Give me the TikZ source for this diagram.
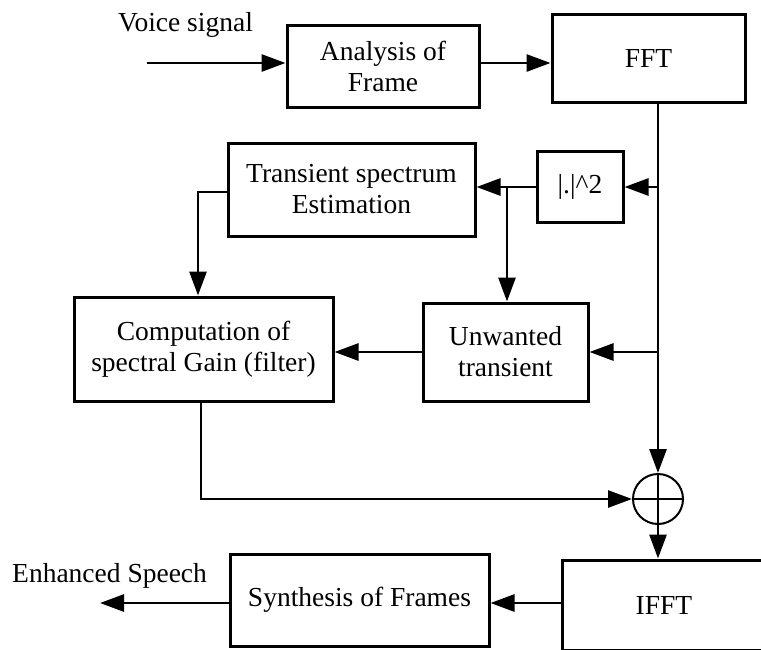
\documentclass[tikz,border=0pt]{standalone}
\usepackage{fontspec}
\setmainfont{Liberation Serif}
\usetikzlibrary{arrows.meta}
\begin{document}
\begin{tikzpicture}[x=1pt,y=-1pt,
  box/.style={draw, line width=3pt, inner sep=0pt, align=center, font=\fontsize{27.5}{31}\selectfont},
  lbl/.style={inner sep=0pt, font=\fontsize{27.5}{31}\selectfont},
  wire/.style={line width=2.8pt},
  arr/.style={wire, -{Triangle[length=24pt,width=17pt]}},
  ]
\clip (0,0) rectangle (761,649);
\useasboundingbox (0,0) rectangle (761,649);

\node[box, minimum width=192pt, minimum height=82pt] (ana) at (383,66) {Analysis of\\Frame};
\node[box, minimum width=193pt, minimum height=88pt] (fft) at (648.5,58) {FFT};
\node[box, minimum width=86pt, minimum height=71pt] (sq) at (580,186.5) {|.|\textasciicircum 2};
\node[box, minimum width=247pt, minimum height=93pt] (trans) at (351.5,189.5) {Transient spectrum\\Estimation};
\node[box, minimum width=259pt, minimum height=104pt] (comp) at (203.5,349) {Computation of\\spectral Gain (filter)};
\node[box, minimum width=165pt, minimum height=98pt] (unw) at (505.5,352) {Unwanted\\transient};
\node[box, minimum width=259pt, minimum height=92pt] (syn) at (359.5,600) {Synthesis of Frames};
\node[box, minimum width=204pt, minimum height=90pt] (ifft) at (664,605) {IFFT};
\node[draw, circle, line width=2pt, minimum size=50pt, inner sep=0pt] (sum) at (658,499) {};
\draw[line width=2pt] (sum.north) -- (sum.south) (sum.west) -- (sum.east);

\node[lbl, anchor=base west] (vs) at (118,31) {Voice signal};
\node[lbl, anchor=base west] (es) at (12,582) {Enhanced Speech};

\coordinate (vin) at (147,63);
\coordinate (j1) at (658,187);
\coordinate (j2) at (658,352);
\coordinate (b) at (507,187);
\coordinate (t1) at (198,192);
\coordinate (c1) at (201,499);
\coordinate (s1) at (0,603);
\coordinate (out) at (100,603);

\draw[arr] (vin) -- (ana.west |- vin);
\draw[arr] (ana.east |- vin) -- (fft.west |- vin);
\draw[arr] (fft.south -| sum) -- (sum.north);
\draw[arr] (j1) -- (sq.east |- j1);
\draw[arr] (sq.west |- j1) -- (trans.east |- j1);
\draw[arr] (b) -- (unw.north -| b);
\draw[arr] (j2) -- (unw.east |- j2);
\draw[arr] (unw.west |- j2) -- (comp.east |- j2);
\draw[arr] (trans.west |- t1) -- (t1) -- (comp.north -| t1);
\draw[arr] (comp.south -| c1) -- (c1) -- (sum.west);
\draw[arr] (sum.south) -- (ifft.north -| sum);
\draw[arr] (ifft.west |- s1) -- (syn.east |- s1);
\draw[arr] (syn.west |- out) -- (out);
\end{tikzpicture}
\end{document}
